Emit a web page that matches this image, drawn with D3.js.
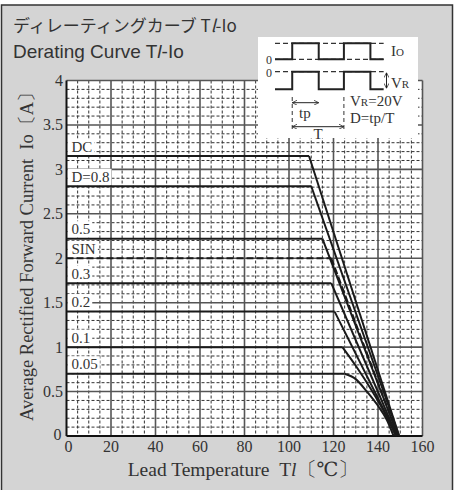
<!DOCTYPE html>
<html>
<head>
<meta charset="utf-8">
<script src="https://cdn.jsdelivr.net/npm/d3@7"></script>
<style>
  body { margin: 0; background: #fff; }
  svg text { fill: #333; }
</style>
</head>
<body>
<div id="chart"></div>
<script>
// Chart data
const curveNames = ["DC", "D=0.8", "0.5", "SIN", "0.3", "0.2", "0.1", "0.05"];
const curveLevels = [3.15, 2.81, 2.22, 2.0, 1.72, 1.4, 1.0, 0.7];
const curveKnees = [109, 110, 115, 119, 119, 120.5, 124, 125];
// points on the falling part [temperature, current]
const curveTails = [
  [[149.5, 0]],
  [[149.5, 0]],
  [[149, 0]],
  [[149, 0]],
  [[148.5, 0]],
  [[148.5, 0]],
  [[130, 0.79], [137, 0.52], [143, 0.26], [148, 0]],
  [[130, 0.64], [135, 0.5], [140, 0.34], [144, 0.18], [147, 0]]
];
const xTicks = [0, 20, 40, 60, 80, 100, 120, 140, 160];
const yTicks = [0, 0.5, 1, 1.5, 2, 2.5, 3, 3.5, 4];
const yTickLabels = ["0", "0.5", "1", "1.5", "2", "2.5", "3", "3.5", "4"];

// Inset waveform edges (in period units)
const waveEdges = [0, 0.65, 1.65, 2.6, 3.6, 4.1];

const W = 458, H = 490;
const margin = { top: 80.5, right: 35.5, bottom: 54, left: 66.5 };
const width = W - margin.left - margin.right;
const height = H - margin.top - margin.bottom;

const svg = d3.select("#chart").append("svg")
  .attr("width", W).attr("height", H);

// grey panel
svg.append("rect")
  .attr("x", 1.5).attr("y", 5).attr("width", 451).attr("height", 490)
  .attr("fill", "#d4d4d4").attr("stroke", "#333").attr("stroke-width", 1.5);

const serif = "'Liberation Serif', 'DejaVu Serif', serif";
const sans = "'Liberation Sans', 'Noto Sans CJK JP', sans-serif";

// titles
const t1 = svg.append("text").attr("x", 13).attr("y", 32)
  .style("font-family", "'Noto Sans CJK JP', sans-serif").style("font-size", "17px");
t1.append("tspan").text("ディレーティングカーブ T");
t1.append("tspan").style("font-style", "italic").text("l");
t1.append("tspan").text("-Io");

const t2 = svg.append("text").attr("x", 13).attr("y", 58)
  .style("font-family", sans).style("font-size", "19px");
t2.append("tspan").text("Derating Curve T");
t2.append("tspan").style("font-style", "italic").text("l");
t2.append("tspan").text("-Io");

const g = svg.append("g")
  .attr("transform", "translate(" + margin.left + "," + margin.top + ")");

const x = d3.scaleLinear().domain([0, 160]).range([0, width]);
const y = d3.scaleLinear().domain([0, 4]).range([height, 0]);

g.append("rect").attr("width", width).attr("height", height).attr("fill", "#fff");

// minor grid (dashed)
g.append("g").selectAll("line")
  .data(d3.range(5, 160, 5).filter(v => v % 20 !== 0))
  .enter().append("line")
  .attr("x1", d => x(d)).attr("x2", d => x(d))
  .attr("y1", 0).attr("y2", height)
  .attr("stroke", "#333").attr("stroke-width", 1).attr("stroke-dasharray", "3,2");

g.append("g").selectAll("line")
  .data(d3.range(1, 40).filter(v => v % 5 !== 0).map(v => v / 10))
  .enter().append("line")
  .attr("x1", 0).attr("x2", width)
  .attr("y1", d => y(d)).attr("y2", d => y(d))
  .attr("stroke", "#333").attr("stroke-width", 1).attr("stroke-dasharray", "3,2");

// major grid
g.append("g").selectAll("line")
  .data(xTicks.slice(1))
  .enter().append("line")
  .attr("x1", d => x(d)).attr("x2", d => x(d))
  .attr("y1", 0).attr("y2", height)
  .attr("stroke", "#555").attr("stroke-width", 1.6);

g.append("g").selectAll("line")
  .data(yTicks.slice(1))
  .enter().append("line")
  .attr("x1", 0).attr("x2", width)
  .attr("y1", d => y(d)).attr("y2", d => y(d))
  .attr("stroke", "#555").attr("stroke-width", 1.6);

// curve labels with white background
const labels = g.append("g");
curveNames.forEach((name, i) => {
  const txt = labels.append("text").attr("x", 5).attr("y", y(curveLevels[i]) - 4.5)
    .style("font-family", serif).style("font-size", "15px").text(name);
  const bb = txt.node().getBBox();
  labels.insert("rect", "text")
    .attr("x", 1).attr("y", bb.y)
    .attr("width", bb.width + 6).attr("height", y(curveLevels[i]) - bb.y - 1)
    .attr("fill", "#fff");
});

// axes lines
g.append("line").attr("x1", 0).attr("x2", 0).attr("y1", 0).attr("y2", height)
  .attr("stroke", "#111").attr("stroke-width", 2);
g.append("line").attr("x1", 0).attr("x2", width).attr("y1", height).attr("y2", height)
  .attr("stroke", "#111").attr("stroke-width", 2);

// curves: flat part, then the falling part
const flat = d3.line().x(d => x(d[0])).y(d => y(d[1]));
const fall = d3.line().x(d => x(d[0])).y(d => y(d[1])).curve(d3.curveMonotoneX);

curveNames.forEach((name, i) => {
  const knee = [curveKnees[i], curveLevels[i]];
  [flat([[0, curveLevels[i]], knee]), fall([knee].concat(curveTails[i]))].forEach(dd => {
    g.append("path")
      .attr("d", dd)
      .attr("fill", "none").attr("stroke", "#1a1a1a").attr("stroke-width", 2)
      .attr("stroke-dasharray", name === "SIN" ? "7,3" : null);
  });
});

// tick labels
g.append("g").selectAll("text")
  .data(xTicks).enter().append("text")
  .attr("x", d => x(d) + (d === 0 ? 2 : 0)).attr("y", height + 16)
  .attr("text-anchor", "middle")
  .style("font-family", serif).style("font-size", "16px")
  .text(d => d);

g.append("g").selectAll("text")
  .data(yTicks).enter().append("text")
  .attr("x", d => d === 0 ? -5 : -3.5).attr("y", d => y(d) + (d === 0 ? 4 : 5.5))
  .attr("text-anchor", "end")
  .style("font-family", serif).style("font-size", "16px")
  .text((d, i) => yTickLabels[i]);

// axis titles
const xt = svg.append("text").attr("x", 243).attr("y", 476)
  .attr("text-anchor", "middle")
  .style("font-family", serif).style("font-size", "19.5px");
xt.append("tspan").text("Lead Temperature\u00a0\u00a0T");
xt.append("tspan").style("font-style", "italic").text("l");
xt.append("tspan").text("〔℃〕");

svg.append("text")
  .attr("transform", "translate(33,252) rotate(-90)")
  .attr("text-anchor", "middle")
  .style("font-family", serif).style("font-size", "18.5px")
  .text("Average Rectified Forward Current\u00a0\u00a0Io〔A〕");

// inset waveform diagram
const inset = svg.append("g");
inset.append("rect").attr("x", 258).attr("y", 37).attr("width", 160).attr("height", 101)
  .attr("fill", "#fff");

const wx = d3.scaleLinear().domain([0, 1]).range([275, 301.5]);
const hi1 = 43.3, lo1 = 59.3, hi2 = 71.7, lo2 = 89.3;

function wave(hi, lo) {
  const pts = [[wx(waveEdges[0]), lo]];
  for (let i = 1; i < waveEdges.length; i++) {
    const prev = i % 2 === 1 ? lo : hi;
    pts.push([wx(waveEdges[i]), prev]);
    if (i < waveEdges.length - 1) pts.push([wx(waveEdges[i]), i % 2 === 1 ? hi : lo]);
  }
  return pts;
}
[hi1, lo1, hi2].forEach(v => {
  inset.append("line").attr("x1", wx(0)).attr("x2", wx(4.1)).attr("y1", v).attr("y2", v)
    .attr("stroke", "#333").attr("stroke-width", 1.2).attr("stroke-dasharray", "5,3");
});
[[hi1, lo1], [hi2, lo2]].forEach(([hi, lo]) => {
  inset.append("path").attr("d", d3.line()(wave(hi, lo)))
    .attr("fill", "none").attr("stroke", "#222").attr("stroke-width", 2);
});

const sm = sel => sel.style("font-family", serif).style("font-size", "15px");
inset.append("text").attr("x", 266).attr("y", 63.5).style("font-family", serif).style("font-size", "12px").text("0");
inset.append("text").attr("x", 266).attr("y", 77).style("font-family", serif).style("font-size", "12px").text("0");
const io = inset.append("text").attr("x", 391).attr("y", 56).call(sm);
io.append("tspan").text("I");
io.append("tspan").style("font-size", "11px").text("O");
const vr = inset.append("text").attr("x", 391).attr("y", 88).call(sm);
vr.append("tspan").text("V");
vr.append("tspan").style("font-size", "11px").text("R");

// arrows
svg.append("defs").append("marker").attr("id", "ah")
  .attr("viewBox", "0 0 10 10").attr("refX", 10).attr("refY", 5)
  .attr("markerWidth", 5).attr("markerHeight", 5).attr("orient", "auto-start-reverse")
  .append("path").attr("d", "M0,0 L10,5 L0,10").attr("fill", "none").attr("stroke", "#222").attr("stroke-width", 1.5);

const arrow = (x1, y1, x2, y2) => inset.append("line")
  .attr("x1", x1).attr("y1", y1).attr("x2", x2).attr("y2", y2)
  .attr("stroke", "#222").attr("stroke-width", 1)
  .attr("marker-start", "url(#ah)").attr("marker-end", "url(#ah)");
arrow(386.5, hi2 + 1, 386.5, lo2 - 1);
arrow(wx(0.65), 102.7, wx(1.65), 102.7);
arrow(wx(0.65), 126.7, wx(2.6), 126.7);
[0.65, 2.6].forEach(e => {
  inset.append("line").attr("x1", wx(e)).attr("x2", wx(e)).attr("y1", 97).attr("y2", 131)
    .attr("stroke", "#333").attr("stroke-width", 1).attr("stroke-dasharray", "4,3");
});
inset.append("text").attr("x", 299).attr("y", 118).call(sm).text("tp");
inset.append("text").attr("x", wx(1.625)).attr("y", 139).attr("text-anchor", "middle").call(sm).text("T");
const vr2 = inset.append("text").attr("x", 350).attr("y", 106).call(sm);
vr2.append("tspan").text("V");
vr2.append("tspan").style("font-size", "11px").text("R");
vr2.append("tspan").text("=20V");
inset.append("text").attr("x", 350).attr("y", 123).call(sm).text("D=tp/T");
</script>
</body>
</html>
